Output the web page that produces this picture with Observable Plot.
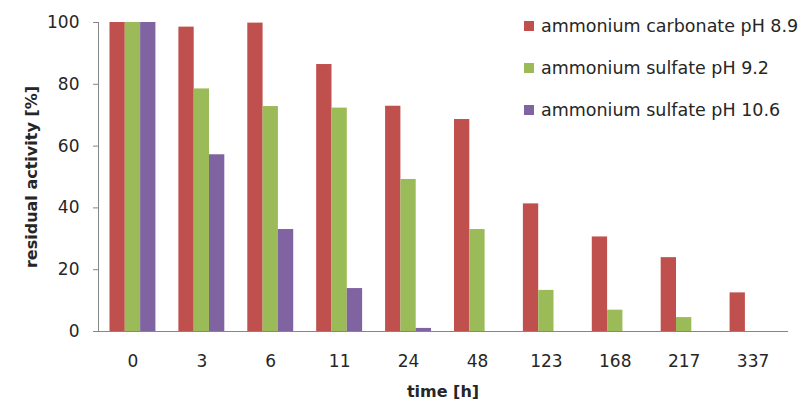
<!DOCTYPE html>
<html><head><meta charset="utf-8">
<script src="https://cdn.jsdelivr.net/npm/d3@7"></script>
<script src="https://cdn.jsdelivr.net/npm/@observablehq/plot@0.6"></script>
<style>
body{margin:0;background:#fff;}
#wrap{position:relative;width:801px;height:404px;font-family:"DejaVu Sans",sans-serif;}
#legend{position:absolute;left:524px;top:5px;font-size:17.5px;color:#262626;}
.row{height:42px;display:flex;align-items:center;white-space:nowrap;}
.sw{width:10px;height:10px;margin-right:7px;flex:none;}
</style></head><body><div id="wrap"><div id="legend"></div></div>
<script>
const times = ["0","3","6","11","24","48","123","168","217","337"];
const series = ["ammonium carbonate pH 8.9","ammonium sulfate pH 9.2","ammonium sulfate pH 10.6"];
const colors = ["#C0504D","#9BBB59","#8064A2"];
const carbonate89 = [100,98.5,99.8,86.4,72.9,68.6,41.3,30.6,23.9,12.5];
const sulfate92 = [100,78.5,72.8,72.3,49.2,33.0,13.3,6.9,4.5,null];
const sulfate106 = [100,57.2,33.0,13.9,1.0,null,null,null,null,null];
const yTicks = [0,20,40,60,80,100];

const data = [];
[carbonate89, sulfate92, sulfate106].forEach((vals, i) => vals.forEach((v, j) => {
  if (v != null) data.push({time: times[j], series: series[i], value: v});
}));

const chart = Plot.plot({
  width: 801, height: 404, marginLeft: 98, marginRight: 14, marginTop: 22, marginBottom: 73,
  style: {fontFamily: "DejaVu Sans", fontSize: "17px", color: "#262626", background: "#fff"},
  fx: {domain: times, padding: 0, round: false, label: null},
  x: {domain: series, paddingInner: 0, paddingOuter: 0.75, round: false, axis: null},
  y: {domain: [0, 100], ticks: yTicks},
  color: {domain: series, range: colors},
  marks: [
    Plot.barY(data, {fx: "time", x: "series", y: "value", fill: "series", inset: 0}),
    Plot.axisY({ticks: yTicks, tickSize: 5, tickPadding: 14, stroke: "#868686", label: null, tickFormat: d => d}),
    Plot.axisFx({anchor: "bottom", tickSize: 0, tickPadding: 23, label: null}),
    Plot.frame({anchor: "left", stroke: "#868686", facet: "super"}),
    Plot.frame({anchor: "bottom", stroke: "#868686", facet: "super"}),
    Plot.text(["residual activity [%]"], {frameAnchor: "left", dx: -67, rotate: -90, textAnchor: "middle", fontWeight: "bold", fontSize: 16, facet: "super"}),
    Plot.text(["time [h]"], {frameAnchor: "bottom", dy: 65, textAnchor: "middle", fontWeight: "bold", fontSize: 16, facet: "super"})
  ]
});
document.getElementById("wrap").prepend(chart);

const legend = document.getElementById("legend");
series.forEach((s, i) => {
  const row = document.createElement("div");
  row.className = "row";
  const sw = document.createElement("span");
  sw.className = "sw";
  sw.style.background = colors[i];
  row.appendChild(sw);
  row.appendChild(document.createTextNode(s));
  legend.appendChild(row);
});
</script></body></html>
